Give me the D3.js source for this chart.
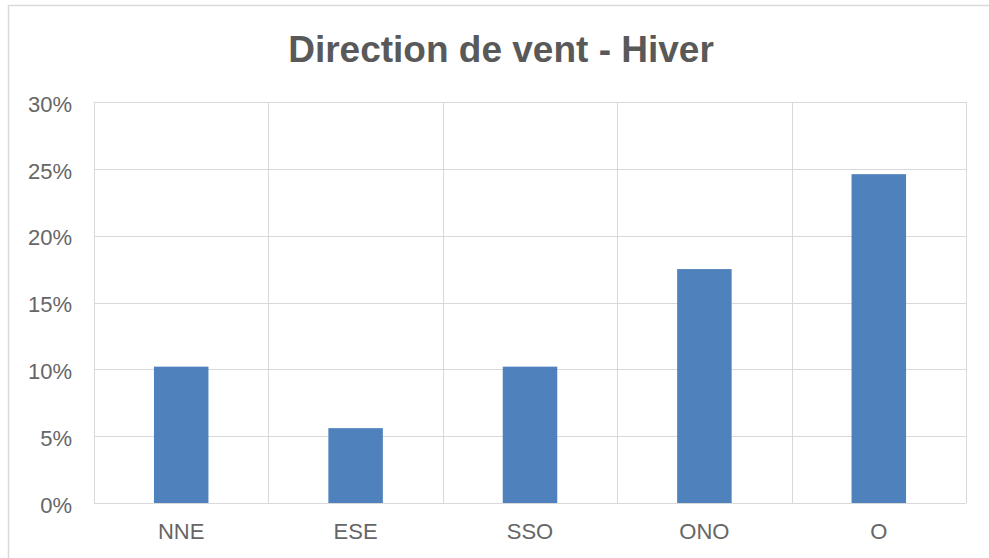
<!DOCTYPE html>
<html>
<head>
<meta charset="utf-8">
<script src="https://cdn.jsdelivr.net/npm/d3@7"></script>
<style>
  html, body { margin: 0; padding: 0; background: #fff; }
  svg { display: block; font-family: Arial, "Liberation Sans", sans-serif; }
</style>
</head>
<body>
<div id="chart"></div>
<script>
// Wind direction shares, winter
const directions = ["NNE", "ESE", "SSO", "ONO", "O"];
const shares = [0.102, 0.056, 0.102, 0.175, 0.246];
const yTicks = [0, 0.05, 0.10, 0.15, 0.20, 0.25, 0.30];

const width = 989, height = 558;
const margin = { top: 102, right: 23, bottom: 55, left: 94 };

const svg = d3.select("#chart").append("svg")
    .attr("width", width)
    .attr("height", height);

// chart frame (only top + left edges show in the picture)
svg.append("path")
    .attr("d", `M8.5,${height} V5.5 H${width}`)
    .attr("fill", "none")
    .attr("stroke", "#d9d9d9")
    .attr("stroke-width", 1.5);

// title
svg.append("text")
    .attr("x", 501)
    .attr("y", 62)
    .attr("text-anchor", "middle")
    .attr("font-size", "37px")
    .attr("font-weight", "bold")
    .attr("fill", "#595959")
    .text("Direction de vent - Hiver");

const x = d3.scaleBand()
    .domain(directions)
    .range([margin.left, width - margin.right])
    .paddingInner(0.6875)
    .paddingOuter(0.34375);

const y = d3.scaleLinear()
    .domain([0, 0.30])
    .range([height - margin.bottom, margin.top]);

const g = svg.append("g");

// horizontal gridlines
g.selectAll(".hgrid")
    .data(yTicks)
    .enter()
    .append("line")
    .attr("class", "hgrid")
    .attr("x1", margin.left)
    .attr("x2", width - margin.right)
    .attr("y1", d => Math.round(y(d)) + 0.5)
    .attr("y2", d => Math.round(y(d)) + 0.5)
    .attr("stroke", "#d9d9d9")
    .attr("stroke-width", 1);

// vertical gridlines at category boundaries
const step = x.step();
const bounds = directions.map(d => x(d) + x.bandwidth() / 2 - step / 2)
    .concat([width - margin.right]);
g.selectAll(".vgrid")
    .data(bounds)
    .enter()
    .append("line")
    .attr("class", "vgrid")
    .attr("x1", d => Math.round(d) + 0.5)
    .attr("x2", d => Math.round(d) + 0.5)
    .attr("y1", margin.top)
    .attr("y2", height - margin.bottom)
    .attr("stroke", "#d9d9d9")
    .attr("stroke-width", 1);

// bars
g.selectAll(".bar")
    .data(directions)
    .enter()
    .append("rect")
    .attr("class", "bar")
    .attr("x", d => x(d))
    .attr("width", x.bandwidth())
    .attr("y", (d, i) => y(shares[i]))
    .attr("height", (d, i) => y(0) - y(shares[i]))
    .attr("fill", "#4f81bd");

// y axis labels
const yAxis = svg.append("g")
    .attr("transform", `translate(${margin.left},0)`)
    .call(d3.axisLeft(y).tickValues(yTicks).tickFormat(d3.format(".0%")).tickSize(0).tickPadding(22));
yAxis.select(".domain").remove();
yAxis.selectAll("text")
    .attr("font-size", "22px")
    .attr("fill", "#666")
    .attr("font-family", null)
    .attr("dy", "0.42em");

// x axis labels
const xAxis = svg.append("g")
    .attr("transform", `translate(0,${height - margin.bottom})`)
    .call(d3.axisBottom(x).tickSize(0).tickPadding(20));
xAxis.select(".domain").remove();
xAxis.selectAll("text")
    .attr("font-size", "22px")
    .attr("fill", "#666")
    .attr("font-family", null);
</script>
</body>
</html>
